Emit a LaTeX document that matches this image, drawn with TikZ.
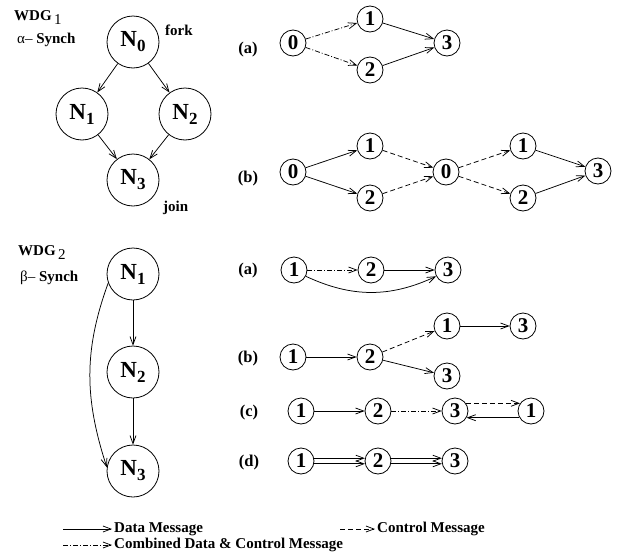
\documentclass[tikz,border=0pt]{standalone}
\usepackage{fontspec}
\setmainfont{Liberation Serif}
\usetikzlibrary{arrows.meta}
% node label with a lowered subscript
\newcommand\Nsub[1]{N\raisebox{-5pt}{\fontsize{17}{17}\selectfont #1}}
\begin{document}
\begin{tikzpicture}[x=1pt,y=-1pt,
  big/.style={circle,draw,line width=0.8pt,minimum size=52pt,inner sep=0pt,
    font=\fontsize{23}{23}\selectfont\bfseries},
  small/.style={circle,draw,line width=0.8pt,minimum size=26pt,inner sep=0pt,
    font=\fontsize{21}{21}\selectfont\bfseries},
  lbl/.style={font=\fontsize{16.5}{16.5}\selectfont\bfseries},
  note/.style={font=\fontsize{15}{15}\selectfont\bfseries,inner sep=0pt},
  >={Straight Barb[length=8pt,width=6pt]},
  data/.style={->,line width=0.75pt},
  ctrl/.style={->,line width=0.75pt,dash pattern=on 5pt off 3pt},
  comb/.style={->,line width=0.75pt,dash pattern=on 5pt off 2pt on 1pt off 2pt},
]
\useasboundingbox (0,0) rectangle (619,557);

% ---------- WDG 1 : alpha synchronisation ----------
\node[note,anchor=base west] (w1) at (14,20) {WDG\,\raisebox{-4pt}{\mdseries 1}};
\node[note,anchor=base west] (s1) at (17,43) {\mdseries α– \bfseries Synch};
\node[big] (N0) at (133,42) {\Nsub{0}};
\node[big] (N1) at (82,114) {\Nsub{1}};
\node[big] (N2) at (185,114) {\Nsub{2}};
\node[big] (N3) at (133,180) {\Nsub{3}};
\node[note,anchor=base west] (fork) at (165,35) {fork};
\node[note,anchor=base west] (join) at (163,211) {join};
\draw[data] (N0) -- (N1);
\draw[data] (N0) -- (N2);
\draw[data] (N1) -- (N3);
\draw[data] (N2) -- (N3);

% alpha (a)
\node[lbl] (la) at (248,50) {(a)};
\node[small] (a0) at (293,43) {0};
\node[small] (a1) at (370,19) {1};
\node[small] (a2) at (370,70) {2};
\node[small] (a3) at (447,43) {3};
\draw[comb] (a0) -- (a1);
\draw[comb] (a0) -- (a2);
\draw[data] (a1) -- (a3);
\draw[data] (a2) -- (a3);

% alpha (b)
\node[lbl] (lb) at (248,179) {(b)};
\node[small] (b0) at (293,172) {0};
\node[small] (b1) at (370,146) {1};
\node[small] (b2) at (370,198) {2};
\node[small] (b0x) at (446,172) {0};
\node[small] (b1x) at (523,146) {1};
\node[small] (b2x) at (523,198) {2};
\node[small] (b3) at (598,171) {3};
\draw[data] (b0) -- (b1);
\draw[data] (b0) -- (b2);
\draw[ctrl] (b1) -- (b0x);
\draw[ctrl] (b2) -- (b0x);
\draw[ctrl] (b0x) -- (b1x);
\draw[ctrl] (b0x) -- (b2x);
\draw[data] (b1x) -- (b3);
\draw[data] (b2x) -- (b3);

% ---------- WDG 2 : beta synchronisation ----------
\node[note,anchor=base west] (w2) at (18,255) {WDG\,\raisebox{-4pt}{\mdseries 2}};
\node[note,anchor=base west] (s2) at (20,281) {\mdseries β– \bfseries Synch};
\node[big] (M1) at (133,274) {\Nsub{1}};
\node[big] (M2) at (133,372) {\Nsub{2}};
\node[big] (M3) at (133,471) {\Nsub{3}};
\draw[data] (M1) -- (M2);
\draw[data] (M2) -- (M3);
\draw[data] (M1.200) to[out=250,in=108] (M3.172);

% beta (a)
\node[lbl] (ka) at (248,271) {(a)};
\node[small] (c1) at (294,270) {1};
\node[small] (c2) at (371,270) {2};
\node[small] (c3) at (448,270) {3};
\draw[comb] (c1) -- (c2);
\draw[data] (c2) -- (c3);
\draw[data] (c1.-28) to[out=-25,in=205] (c3.208);

% beta (b)
\node[lbl] (kb) at (248,359) {(b)};
\node[small] (d1) at (293,357) {1};
\node[small] (d2) at (370,357) {2};
\node[small] (d1x) at (447,326) {1};
\node[small] (d3) at (523,326) {3};
\node[small] (d3x) at (447,376) {3};
\draw[data] (d1) -- (d2);
\draw[ctrl] (d2) -- (d1x);
\draw[data] (d1x) -- (d3);
\draw[data] (d2) -- (d3x);

% beta (c)
\node[lbl] (kc) at (249,413) {(c)};
\node[small] (e1) at (301,411) {1};
\node[small] (e2) at (378,411) {2};
\node[small] (e3) at (455,411) {3};
\node[small] (e1x) at (531,411) {1};
\draw[data] (e1) -- (e2);
\draw[comb] (e2) -- (e3);
\draw[ctrl] (e3.35) -- (e1x.145);
\draw[data] (e1x.-150) -- (e3.-30);

% beta (d)
\node[lbl] (kd) at (249,463) {(d)};
\node[small] (f1) at (301,461) {1};
\node[small] (f2) at (378,461) {2};
\node[small] (f3) at (455,461) {3};
\draw[data] (f1.12) -- (f2.168);
\draw[data] (f1.-12) -- (f2.-168);
\draw[data] (f2.12) -- (f3.168);
\draw[data] (f2.-12) -- (f3.-168);

% ---------- legend ----------
\coordinate (g1s) at (63,529);  \coordinate (g1e) at (112,529);
\coordinate (g2s) at (340,529); \coordinate (g2e) at (375,529);
\coordinate (g3s) at (63,545);  \coordinate (g3e) at (112,545);
\draw[data] (g1s) -- (g1e);
\draw[ctrl] (g2s) -- (g2e);
\draw[comb] (g3s) -- (g3e);
\node[note,anchor=west] (t1) at (114,529) {Data Message};
\node[note,anchor=west] (t2) at (377,529) {Control Message};
\node[note,anchor=west] (t3) at (114,545) {Combined Data \& Control Message};
\end{tikzpicture}
\end{document}
